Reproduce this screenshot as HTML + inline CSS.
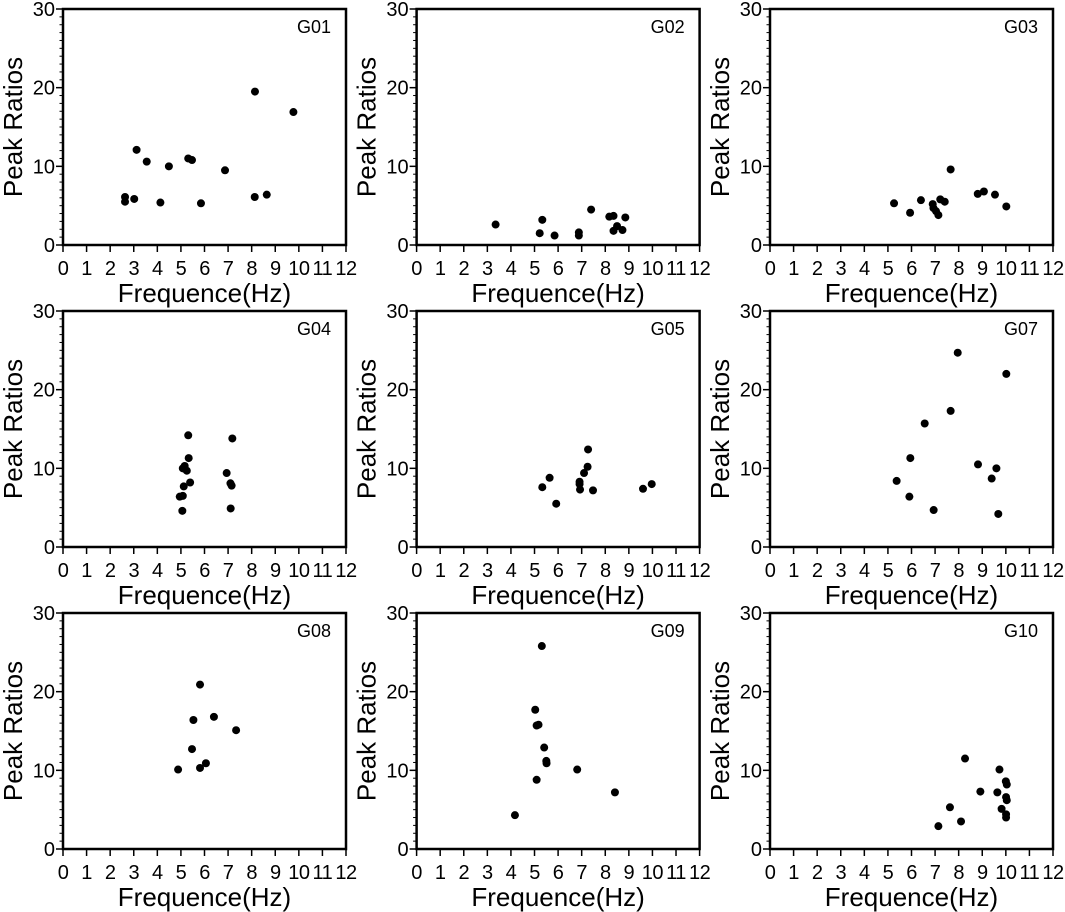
<!DOCTYPE html>
<html><head><meta charset="utf-8"><style>
html,body{margin:0;padding:0;background:#fff;}
svg{display:block;font-family:"Liberation Sans",Arial,sans-serif;}
</style></head><body>
<svg id="chart" width="1065" height="912" viewBox="0 0 1065 912" xmlns="http://www.w3.org/2000/svg"></svg>
<script>
const panelNames = ["G01","G02","G03","G04","G05","G07","G08","G09","G10"];
const xTicks = [0,1,2,3,4,5,6,7,8,9,10,11,12];
const yTicks = [0,10,20,30];
const g01x = [2.63,2.63,3.02,3.12,3.55,4.49,4.13,5.31,5.47,5.85,6.87,8.14,8.13,8.64,9.77];
const g01y = [5.5,6.1,5.85,12.1,10.6,10.0,5.4,11.0,10.8,5.3,9.5,19.5,6.1,6.4,16.9];
const g02x = [3.35,5.33,5.22,5.85,6.88,6.88,7.4,8.17,8.35,8.85,8.5,8.35,8.73];
const g02y = [2.6,3.2,1.5,1.2,1.6,1.2,4.5,3.6,3.7,3.5,2.4,1.8,1.9];
const g03x = [5.26,5.94,6.4,7.66,6.9,6.93,7.04,7.14,7.22,7.41,8.81,9.07,9.54,10.02];
const g03y = [5.3,4.1,5.7,9.6,5.2,4.7,4.3,3.8,5.8,5.5,6.5,6.8,6.4,4.9];
const g04x = [5.31,5.33,5.16,5.08,5.25,5.39,5.12,5.08,4.95,5.06,7.18,6.94,7.1,7.15,7.11];
const g04y = [14.2,11.3,10.3,10.0,9.7,8.2,7.7,6.5,6.4,4.6,13.8,9.4,8.1,7.8,4.9];
const g05x = [5.33,5.64,5.92,6.91,6.91,6.93,7.1,7.25,7.27,7.48,9.6,9.97];
const g05y = [7.6,8.8,5.5,8.3,8.0,7.3,9.4,10.2,12.4,7.2,7.4,8.0];
const g07x = [7.96,10.02,7.66,6.56,5.95,8.82,9.6,9.4,5.37,5.91,6.94,9.68];
const g07y = [24.7,22.0,17.3,15.7,11.3,10.5,10.0,8.7,8.4,6.4,4.7,4.2];
const g08x = [5.81,5.53,6.4,7.34,5.47,6.06,5.81,4.88];
const g08y = [20.9,16.4,16.8,15.1,12.7,10.9,10.3,10.1];
const g09x = [5.31,5.03,5.09,5.17,5.41,5.5,5.51,6.81,5.09,8.41,4.17];
const g09y = [25.8,17.7,15.7,15.8,12.9,11.2,10.9,10.1,8.8,7.2,4.3];
const g10x = [7.14,7.63,8.1,8.27,8.92,9.64,9.73,10.0,10.04,10.01,10.04,9.82,10.01,10.01];
const g10y = [2.9,5.3,3.5,11.5,7.3,7.2,10.1,8.6,8.2,6.6,6.2,5.1,4.4,4.0];
const seriesX = [g01x,g02x,g03x,g04x,g05x,g07x,g08x,g09x,g10x];
const seriesY = [g01y,g02y,g03y,g04y,g05y,g07y,g08y,g09y,g10y];

const NS = "http://www.w3.org/2000/svg";
const svg = document.getElementById("chart");
const colLeft = [63, 416.6, 770];
const rowTop = [9, 311, 613];
const W = 283, H = 236, XMAX = 12, YMAX = 30;
function mk(tag, attrs, parent){
  const e = document.createElementNS(NS, tag);
  for (const k in attrs) e.setAttribute(k, attrs[k]);
  parent.appendChild(e);
  return e;
}
for (let p = 0; p < 9; p++) {
  const L = colLeft[p % 3], T = rowTop[Math.floor(p / 3)], B = T + H;
  const sx = v => L + v / XMAX * W;
  const sy = v => B - v / YMAX * H;
  const g = mk("g", {}, svg);
  
  
  for (let v = 0; v <= YMAX; v++) {
    const major = v % 10 === 0;
    const t = mk("line", {x1: L, x2: L - (major ? 7 : 3.5), y1: sy(v), y2: sy(v), stroke: "#000", "stroke-width": major ? 1.5 : 1}, g);
    
    
  }
  yTicks.forEach(v => {
    const t = mk("text", {x: L - 8, y: sy(v) + 7, "text-anchor": "end", "font-size": 20}, g);
    t.textContent = v;
    
    
  });
  xTicks.forEach(v => {
    const t = mk("line", {x1: sx(v), x2: sx(v), y1: B, y2: B + 7, stroke: "#000", "stroke-width": 1.5}, g);
    
    
    const l = mk("text", {x: sx(v), y: B + 30, "text-anchor": "middle", "font-size": 20, "letter-spacing": "-0.5"}, g);
    l.textContent = v;
    
    
  });
  const fr = mk("rect", {x: L, y: T, width: W, height: H, fill: "none", stroke: "#000", "stroke-width": 2.5}, g);
  
  
  const xt = mk("text", {x: L + W / 2, y: B + 57, "text-anchor": "middle", "font-size": 26}, g);
  xt.textContent = "Frequence(Hz)";
  
  
  const yx = L - 41, yy = T + H / 2;
  const yt = mk("text", {x: yx, y: yy, "text-anchor": "middle", "font-size": 26, transform: `rotate(-90 ${yx} ${yy})`}, g);
  yt.textContent = "Peak Ratios";
  
  
  const pl = mk("text", {x: L + W - 15, y: T + 24, "text-anchor": "end", "font-size": 18}, g);
  pl.textContent = panelNames[p];
  
  
  const xs = seriesX[p], ys = seriesY[p];
  for (let i = 0; i < xs.length; i++) {
    const c = mk("circle", {cx: sx(xs[i]), cy: sy(ys[i]), r: 4, fill: "#000"}, g);
    
    
  }
}
</script>
</body></html>
